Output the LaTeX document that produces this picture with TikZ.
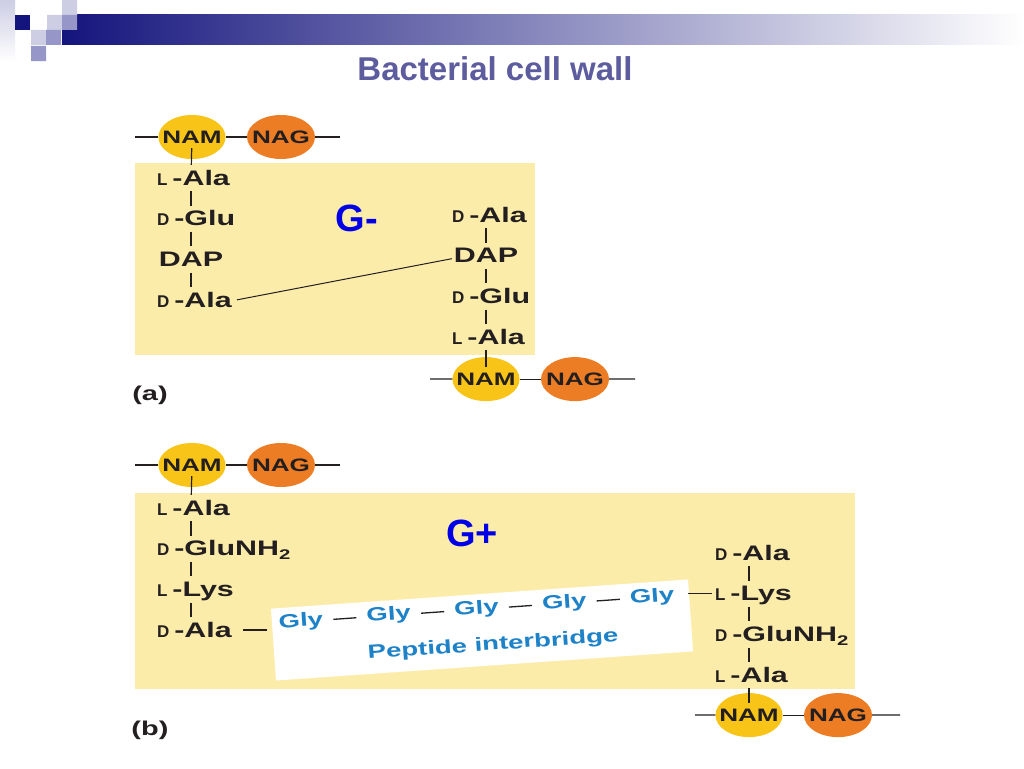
\documentclass[tikz,border=0pt]{standalone}
\usepackage{fontspec}
\setmainfont{Liberation Sans}
\newfontfamily\widefont[FakeStretch=1.45]{Liberation Sans}
\usetikzlibrary{positioning, shapes.geometric}

\definecolor{wallyellow}{RGB}{252,236,170}
\definecolor{namgold}{RGB}{248,196,24}
\definecolor{nagorange}{RGB}{237,125,36}
\definecolor{glyblue}{RGB}{30,130,200}
\definecolor{gramblue}{RGB}{0,0,230}
\definecolor{titleblue}{RGB}{92,92,158}
\definecolor{inkdark}{RGB}{35,31,32}
\definecolor{navy}{RGB}{20,20,125}
\definecolor{cornerlight}{RGB}{205,205,228}
\definecolor{cornermid}{RGB}{150,150,200}

% small capital prefix, then the residue
\newcommand{\chir}[2]{\mbox{{\rmfamily\fontsize{17}{17}\selectfont #1}\kern5pt-#2}}
\newcommand{\sub}[1]{\raisebox{-4pt}{\fontsize{14}{14}\selectfont #1}}

\tikzset{
    sugar/.style={
        ellipse,
        minimum width=66pt,
        minimum height=44pt,
        inner xsep=-6pt,
        inner ysep=0pt,
        text=inkdark,
        font={\widefont\bfseries\fontsize{18}{18}\selectfont}
    },
    nam/.style={sugar, fill=namgold},
    nag/.style={sugar, fill=nagorange, minimum width=68pt},
    acid/.style={
        text width=68pt,
        align=left,
        inner sep=0pt,
        text height=15pt,
        text depth=1pt,
        text=inkdark,
        font={\widefont\bfseries\fontsize{21}{21}\selectfont}
    },
    bond/.style={draw=inkdark, line width=1.2pt},
    gly/.style={
        inner sep=0pt,
        transform shape,
        text=glyblue,
        font={\widefont\bfseries\fontsize{19}{19}\selectfont}
    },
    bridgebox/.style={
        fill=white,
        transform shape,
        minimum width=418pt,
        minimum height=72pt
    },
    gram/.style={text=gramblue, font={\bfseries\fontsize{38}{38}\selectfont}},
    panel/.style={text=inkdark, font={\widefont\bfseries\fontsize{20}{20}\selectfont}},
    title/.style={text=titleblue, font={\bfseries\fontsize{33}{33}\selectfont}}
}

\begin{document}
\begin{tikzpicture}[x=1pt, y=-1pt, node distance = 40.7pt, on grid]
            % Frame :
            \path [use as bounding box, fill=white] (0,0) rectangle (1024,768);

            % Slide corner
            \shade [top color=cornerlight, bottom color=white] (0,0) rectangle (15,62);
            \shade [left color=navy, right color=white] (62,15) rectangle (1024,45);
            \fill [navy] (15,15) rectangle (30,30);
            \fill [cornerlight] (47,15) rectangle (62,30) (62,0) rectangle (77,15) (31,30) rectangle (46,45);
            \fill [cornermid] (62,15) rectangle (77,30) (46,30) rectangle (61,45) (31,46) rectangle (46,61);

            \node (title) [title] at (495,69) {Bacterial cell wall};

            % Panel (a)
            \fill [wallyellow] (135,163) rectangle (535,355);
            \node (gminus) [gram] at (357,218) {G-};
            \node (labelA) [panel] at (150,395) {(a)};

            \node (namA) [nam] at (192,137) {NAM};
            \node (nagA) [nag, right = 89pt of namA] {NAG};
            \node (alaA) [acid] at (191,178) {\chir{L}{Ala}};
            \node (gluA) [acid, below = of alaA] {\chir{D}{Glu}};
            \node (dapA) [acid, align=center, below = of gluA] {DAP};
            \node (dalaA) [acid, below = of dapA] {\chir{D}{Ala}};

            \node (dalaA2) [acid] at (486,215) {\chir{D}{Ala}};
            \node (dapA2) [acid, align=center, below = of dalaA2] {DAP};
            \node (gluA2) [acid, below = of dapA2] {\chir{D}{Glu}};
            \node (alaA2) [acid, below = of gluA2] {\chir{L}{Ala}};
            \node (namA2) [nam, below = 42pt of alaA2] {NAM};
            \node (nagA2) [nag, right = 89pt of namA2] {NAG};

            \coordinate (endA1) at (135,137);
            \coordinate (endA2) at (340,137);
            \coordinate (endA3) at (430,379);
            \coordinate (endA4) at (635,379);

            % Panel (b)
            \fill [wallyellow] (135,493) rectangle (855,689);
            \node (gplus) [gram] at (472,533) {G+};
            \node (labelB) [panel] at (150,730) {(b)};

            \node (namB) [nam] at (192,465) {NAM};
            \node (nagB) [nag, right = 89pt of namB] {NAG};
            \node (alaB) [acid] at (191,508) {\chir{L}{Ala}};
            \node (gluB) [acid, below = of alaB] {\chir{D}{GluNH\sub{2}}};
            \node (lysB) [acid, below = of gluB] {\chir{L}{Lys}};
            \node (dalaB) [acid, below = of lysB] {\chir{D}{Ala}};

            \node (dalaB2) [acid] at (749,553) {\chir{D}{Ala}};
            \node (lysB2) [acid, below = of dalaB2] {\chir{L}{Lys}};
            \node (gluB2) [acid, below = of lysB2] {\chir{D}{GluNH\sub{2}}};
            \node (alaB2) [acid, below = of gluB2] {\chir{L}{Ala}};
            \node (namB2) [nam, below = 40pt of alaB2] {NAM};
            \node (nagB2) [nag, right = 89pt of namB2] {NAG};

            \coordinate (endB1) at (135,465);
            \coordinate (endB2) at (340,465);
            \coordinate (endB3) at (695,715);
            \coordinate (endB4) at (900,715);

            % Peptide interbridge
            \begin{scope}[shift={(482,630)}, rotate=4]
                \node (bridge) [bridgebox] at (0,0) {};
                \node (gly1) [gly] at (-180,-21) {Gly};
                \node (gly2) [gly] at (-92,-21) {Gly};
                \node (gly3) [gly] at (-4,-21) {Gly};
                \node (gly4) [gly] at (84,-21) {Gly};
                \node (gly5) [gly] at (172,-21) {Gly};
                \node (bridgename) [gly] at (10,16) {Peptide interbridge};
            \end{scope}

            % Glycan backbones
            \path [bond]
                (endA1) edge (namA)
                (namA) edge (nagA)
                (nagA) edge (endA2)
                (endA3) edge (namA2)
                (namA2) edge (nagA2)
                (nagA2) edge (endA4)
                (endB1) edge (namB)
                (namB) edge (nagB)
                (nagB) edge (endB2)
                (endB3) edge (namB2)
                (namB2) edge (nagB2)
                (nagB2) edge (endB4)
            ;

            % Peptide stems
            \path [bond, shorten <=5pt, shorten >=5pt]
                (alaA) edge (gluA)
                (gluA) edge (dapA)
                (dapA) edge (dalaA)
                (dalaA2) edge (dapA2)
                (dapA2) edge (gluA2)
                (gluA2) edge (alaA2)
                (alaB) edge (gluB)
                (gluB) edge (lysB)
                (lysB) edge (dalaB)
                (dalaB2) edge (lysB2)
                (lysB2) edge (gluB2)
                (gluB2) edge (alaB2)
            ;
            \path [bond]
                (namA) edge [shorten <=-11pt, shorten >=5pt] (alaA)
                (alaA2) edge [shorten <=5pt, shorten >=-10pt] (namA2)
                (namB) edge [shorten <=-11pt, shorten >=5pt] (alaB)
                (alaB2) edge [shorten <=5pt, shorten >=-10pt] (namB2)
            ;

            % Cross links
            \path [bond, line width=1pt]
                ([yshift=-2pt]dalaA.east) edge [shorten <=12pt] ([yshift=-3pt]dapA2.west);
            \path [bond, line width=1.3pt, shorten <=10pt, shorten >=10pt]
                (gly1) edge (gly2)
                (gly2) edge (gly3)
                (gly3) edge (gly4)
                (gly4) edge (gly5)
            ;
            \path [bond, line width=1.3pt]
                (dalaB.east) edge [shorten <=18pt, shorten >=12pt] (dalaB.east -| gly1.west)
                (lysB2.west) edge [shorten <=3pt, shorten >=14pt] (lysB2.west -| gly5.east)
            ;
\end{tikzpicture}
\end{document}
